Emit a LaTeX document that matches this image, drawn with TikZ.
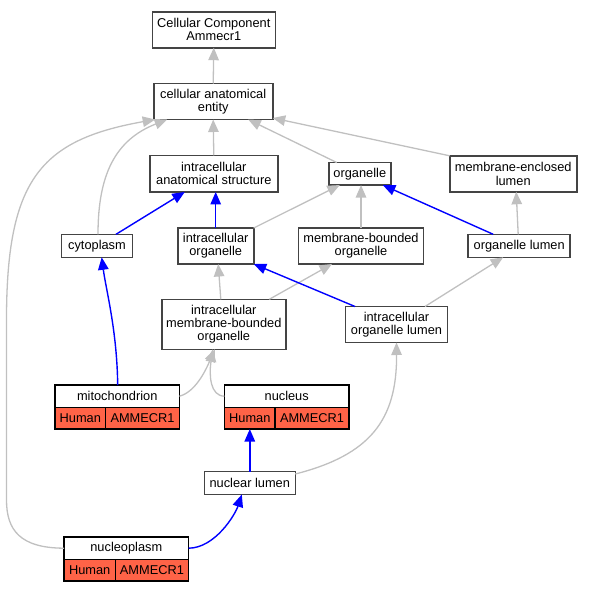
\documentclass[tikz,border=0pt]{standalone}
\usepackage{fontspec}
\setmainfont{Liberation Sans}
\usetikzlibrary{arrows.meta,positioning}
\definecolor{isagray}{RGB}{192,192,192}
\definecolor{partblue}{RGB}{0,0,255}
\definecolor{genered}{RGB}{255,99,71}
\definecolor{boxline}{RGB}{68,68,68}

\begin{document}
\begin{tikzpicture}[x=1pt, y=-1pt,
    term/.style={draw=boxline, line width=1.6pt, fill=white, align=center, inner sep=0pt, outer sep=0pt, minimum height=23pt, font=\fontsize{12.8}{13.3}\selectfont},
    genename/.style={term, draw=black, line width=1.4pt, minimum height=22.3pt, minimum width=124.5pt},
    genecell/.style={term, draw=black, line width=1.4pt, fill=genered, minimum height=21.7pt, anchor=north west},
    isa/.style={draw=isagray, line width=1.3pt, -{Triangle[length=12.5pt,width=10.5pt]}},
    partof/.style={draw=partblue, line width=1.4pt, -{Triangle[length=12.5pt,width=10.5pt]}}]
    \useasboundingbox (0,0) rectangle (591,592);

    \node[term, minimum width=123pt, minimum height=36pt] (cc) at (213.8,29.7) {Cellular Component\\Ammecr1};
    \node[term, minimum width=119pt, minimum height=36pt] (cae) at (213.2,101.5) {cellular anatomical\\entity};
    \node[term, minimum width=128pt, minimum height=36.5pt] (ias) at (213.8,173.7) {intracellular\\anatomical structure};
    \node[term, minimum width=62pt, minimum height=22.5pt] (organelle) at (359.8,173.8) {organelle};
    \node[term, minimum width=127pt, minimum height=36pt] (mel) at (513.2,173.8) {membrane-enclosed\\lumen};
    \node[term, minimum width=71pt] (cyto) at (97,245.8) {cytoplasm};
    \node[term, minimum width=76pt, minimum height=36pt] (io) at (215.7,246) {intracellular\\organelle};
    \node[term, minimum width=125pt, minimum height=36pt] (mbo) at (361,246) {membrane-bounded\\organelle};
    \node[term, minimum width=102pt] (ol) at (519.2,245.8) {organelle lumen};
    \node[term, minimum width=124pt, minimum height=50pt] (imbo) at (223.8,324.3) {intracellular\\membrane-bounded\\organelle};
    \node[term, minimum width=102pt, minimum height=36pt] (iol) at (396.5,324.5) {intracellular\\organelle lumen};
    \node[term, minimum width=91pt] (nl) at (249.8,483) {nuclear lumen};

    \node[genename] (mito) at (117.2,396.2) {mitochondrion};
    \node[genecell, minimum width=50.7pt] (mitoHuman) at (mito.south west) {Human};
    \node[genecell, minimum width=73.8pt] (mitoGene) at (mitoHuman.north east) {AMMECR1};

    \node[genename] (nucleus) at (286.7,396.2) {nucleus};
    \node[genecell, minimum width=50.7pt] (nucleusHuman) at (nucleus.south west) {Human};
    \node[genecell, minimum width=73.8pt] (nucleusGene) at (nucleusHuman.north east) {AMMECR1};

    \node[genename] (nplasm) at (126.3,548.2) {nucleoplasm};
    \node[genecell, minimum width=51.3pt] (nplasmHuman) at (nplasm.south west) {Human};
    \node[genecell, minimum width=73.2pt] (nplasmGene) at (nplasmHuman.north east) {AMMECR1};

    \draw[isa] (cae.north) -- (cc.south);
    \draw[isa] (ias.north) -- (cae.south);
    \draw[isa] ([xshift=1pt]cyto.north) .. controls (98,175) and (115,140) .. ([xshift=-46pt]cae.south);
    \draw[isa] (nplasm.west) .. controls (20,548) and (6.5,530) .. (6.5,500) -- (6.5,320) .. controls (6.5,180) and (40,140) .. ([xshift=-58pt]cae.south);
    \draw[isa] ([xshift=-23pt]organelle.north) -- ([xshift=35pt]cae.south);
    \draw[isa] (mel.north west) -- ([yshift=1.5pt]cae.south east);
    \draw[partof] ([xshift=19pt]cyto.north) -- ([xshift=-29pt]ias.south);
    \draw[partof] (io.north) -- (io.north |- ias.south);
    \draw[isa] (io.north east) -- ([xshift=-20pt]organelle.south);
    \draw[isa] (mbo.north) -- (mbo.north |- organelle.south);
    \draw[partof] ([xshift=-26pt]ol.north) -- ([xshift=23pt]organelle.south);
    \draw[isa] ([xshift=-1pt]ol.north) -- ([xshift=3pt]mel.south);
    \draw[isa] ([xshift=-3pt]imbo.north) -- ([xshift=2.5pt]io.south);
    \draw[isa] ([xshift=45.5pt]imbo.north) -- ([xshift=-29pt]mbo.south);
    \draw[partof] ([xshift=-41.5pt]iol.north) -- (io.south east);
    \draw[isa] ([xshift=28.5pt]iol.north) -- ([xshift=-16pt]ol.south);
    \draw[partof] ([xshift=0.5pt]mito.north) .. controls (117,330) and (106,290) .. ([xshift=4.7pt]cyto.south);
    \draw[isa] (mito.east) .. controls (195,392) and (205,372) .. ([xshift=-9pt]imbo.south);
    \draw[isa] (nucleus.west) .. controls (210,396) and (209,375) .. ([xshift=-11pt]imbo.south);
    \draw[partof] (nl.north) -- (nl.north |- nucleusHuman.south);
    \draw[isa] ([yshift=-2.5pt]nl.north east) .. controls (370,455) and (397,420) .. (iol.south);
    \draw[partof] (nplasm.east) .. controls (215,548) and (235,515) .. ([xshift=-8pt]nl.south);
\end{tikzpicture}
\end{document}
